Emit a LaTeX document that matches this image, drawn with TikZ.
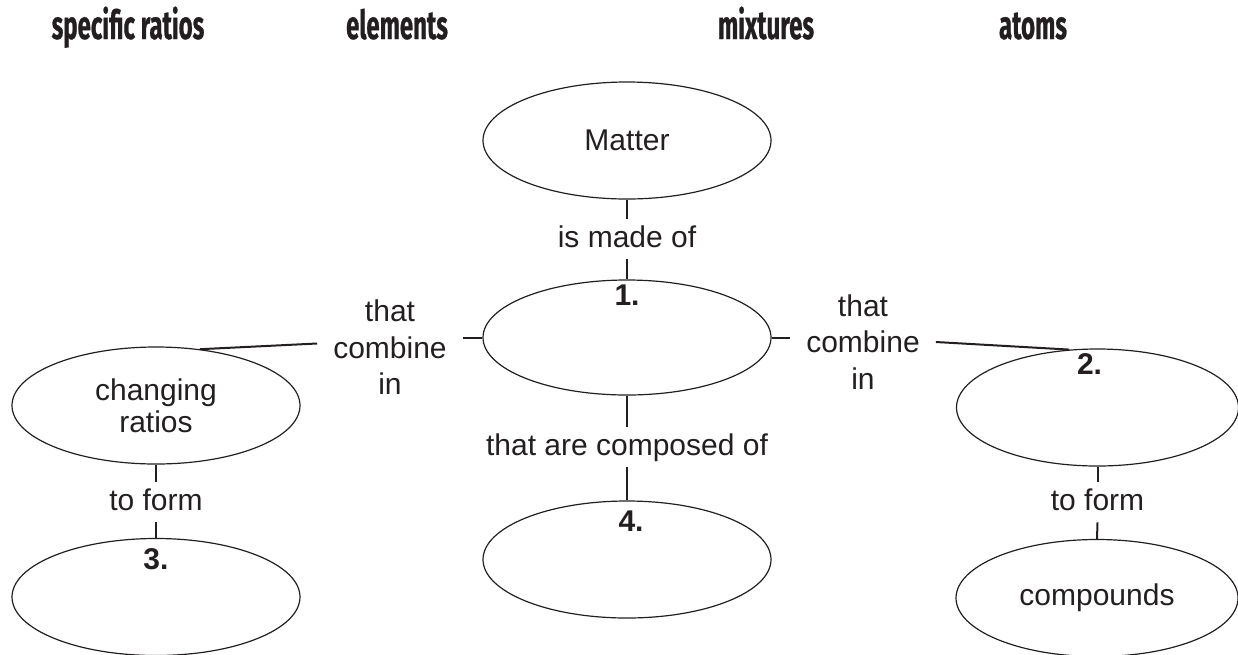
\documentclass[tikz,border=0pt]{standalone}
\usepackage{fontspec}
\setmainfont{Liberation Sans}
\newfontfamily\headfont{Fira Sans}[FakeStretch=0.6, FakeBold=0.6]
\usetikzlibrary{shapes.geometric}
\definecolor{ink}{HTML}{231F20}
\newcommand\mapfont{\fontsize{30}{32}\selectfont}
\newcommand\sidefont{\fontsize{30}{36.5}\selectfont}
\newcommand\topfont{\fontsize{40}{44}\selectfont\headfont\bfseries}

\begin{document}
\begin{tikzpicture}[x=1pt,y=-1pt,
  every node/.style={text=ink},
  concept/.style={ellipse, draw=ink, line width=1.2pt, minimum width=288pt,
    minimum height=117pt, inner sep=0pt, font=\mapfont, align=center},
  narrowconcept/.style={concept, minimum width=282pt},
  vlabel/.style={font=\mapfont, inner xsep=4pt, text height=21.5pt,
    text depth=5pt, inner ysep=7pt},
  slabel/.style={font=\sidefont, align=center, inner xsep=16pt, inner ysep=2pt},
  numtag/.style={font=\mapfont\bfseries, inner sep=0pt, anchor=north},
  heading/.style={font=\topfont, anchor=base, inner sep=0pt},
  link/.style={draw=ink, line width=2pt}]

\useasboundingbox (0,0) rectangle (1238,654);

% word bank
\node[heading] (w1) at (128,39) {specific ratios};
\node[heading] (w2) at (397,39) {elements};
\node[heading] (w3) at (766,39) {mixtures};
\node[heading] (w4) at (1033,39) {atoms};

% concepts
\node[concept] (matter) at (627,140.5) {Matter};
\node[concept, minimum height=115pt] (e1) at (627,337.5) {};
\node[concept] (e4) at (627,559.5) {};
\node[concept] (cr) at (156,405.5) {changing\\ratios};
\node[concept] (e3) at (156,597) {};
\node[narrowconcept] (e2) at (1097.5,407.5) {};
\node[narrowconcept] (comp) at (1097,598) {compounds};

% blanks to fill in
\node[numtag] (n1) at ([yshift=-5pt]e1.north) {1.};
\node[numtag] (n2) at ([xshift=-8pt,yshift=-5pt]e2.north) {2.};
\node[numtag] (n3) at ([yshift=-10pt]e3.north) {3.};
\node[numtag] (n4) at ([xshift=4pt,yshift=-10pt]e4.north) {4.};

% linking phrases
\node[vlabel] (madeof) at (627,239) {is made of};
\node[vlabel] (composed) at (627,447) {that are composed of};
\node[vlabel] (lform) at (156,502) {to form};
\node[vlabel] (rform) at (1097.5,502) {to form};
\node[slabel] (lcomb) at (390,347.5) {that\\combine\\in};
\node[slabel] (rcomb) at (863,342) {that\\combine\\in};

% connectors
\draw[link] (matter.south) -- (madeof.north);
\draw[link] (madeof.south) -- (e1.north);
\draw[link] (e1.south) -- (composed.north);
\draw[link] (composed.south) -- (e4.north);
\draw[link] (cr.south) -- (lform.north);
\draw[link] (lform.south) -- (e3.north);
\draw[link] (e2.south) -- (rform.north);
\draw[link] (rform.south) -- (comp.north);
\draw[link] (e1.west) -- (e1.west -| lcomb.east);
\draw[link] ([yshift=4pt]lcomb.west) -- (cr.52);
\draw[link] (e1.east) -- (e1.east -| rcomb.west);
\draw[link] (rcomb.east) -- (e2.116);
\end{tikzpicture}
\end{document}
